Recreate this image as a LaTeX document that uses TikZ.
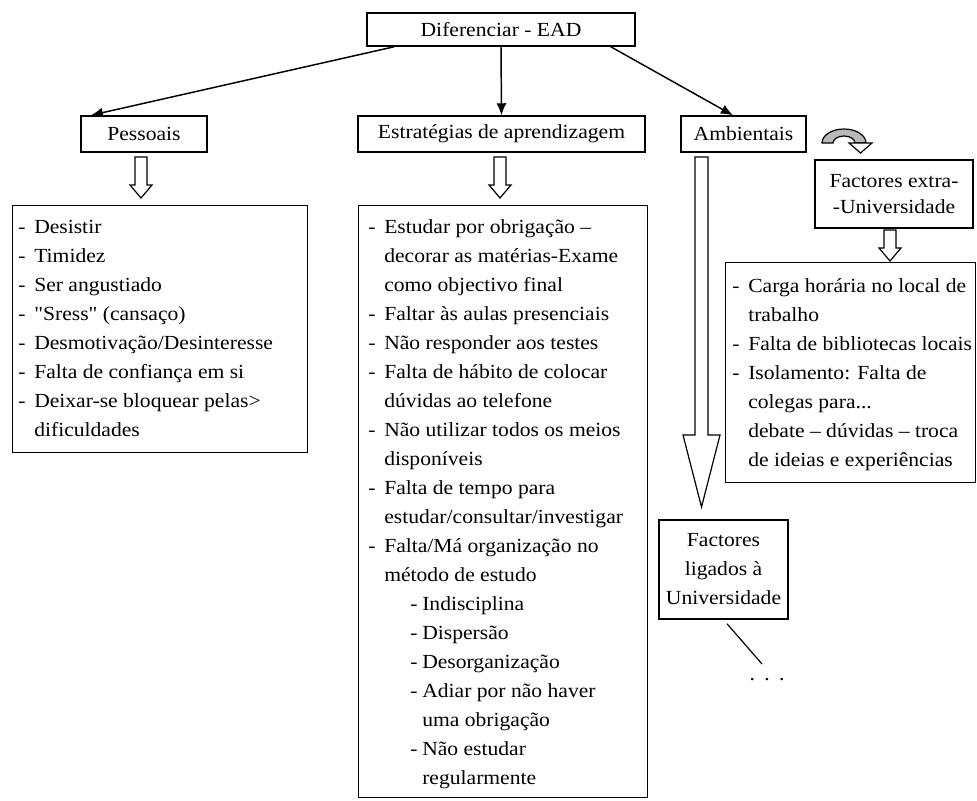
\documentclass[tikz,border=0pt]{standalone}
\usepackage{fontspec}
\setmainfont{Liberation Serif}[FakeStretch=1.08,Ligatures=TeXOff]
\usetikzlibrary{arrows.meta,calc}
\newcommand\LItem[1]{\makebox[12pt][l]{-}#1}
\newcommand\LCont[1]{\hspace*{12pt}#1}
\newcommand\LSub[1]{\hspace*{31.5pt}\makebox[9pt][l]{-}#1}
\newcommand\LSubC[1]{\hspace*{40.5pt}#1}
% hollow arrow: centre x, top y, tip y, shaft half width, head half width, head length
\newcommand\harrow[6]{\draw[hollow] (#1-#4,#2) -- (#1+#4,#2) -- (#1+#4,#3-#6) -- (#1+#5,#3-#6) -- (#1,#3) -- (#1-#5,#3-#6) -- (#1-#4,#3-#6) -- cycle;}
\begin{document}
\begin{tikzpicture}[x=0.75pt,y=-0.75pt,
  every node/.style={font=\fontsize{15}{21.75}\selectfont},
  box/.style={draw,line width=1.1pt,inner sep=0pt},
  conn/.style={-{Latex[length=9pt,width=7.5pt]},line width=1.1pt},
  hollow/.style={draw,fill=white,line width=0.9pt,line join=miter},
  listtext/.style={anchor=base west,inner sep=0pt}]
\useasboundingbox (0,0) rectangle (977,800);

% headers
\node[box,minimum width=201pt,minimum height=24.75pt] (top) at (501,29.5) {Diferenciar - EAD};
\node[box,minimum width=94.5pt,minimum height=27pt] (pess) at (144,134) {Pessoais};
\node[box,minimum width=215.25pt,minimum height=27pt] (estr) at (501.5,134) {Estratégias de aprendizagem};
\node[box,minimum width=93.75pt,minimum height=27pt] (amb) at (743.5,134) {Ambientais};
\node[box,align=center,minimum width=118.5pt,minimum height=51pt,
  font=\fontsize{15}{19}\selectfont] (fext) at (894,194) {Factores extra-\\-Universidade};
\node[box,align=center,minimum width=96.75pt,minimum height=74.25pt] (funi) at (723.5,569.5) {Factores\\ligados à\\Universidade};

% connectors from the top box
\draw[conn] ([xshift=21pt]top.south west) -- ([xshift=8pt]pess.north west);
\draw[conn] (top.south) -- (estr.north);
\draw[conn] ([xshift=-18.75pt]top.south east) -- ([xshift=-7.9pt]amb.north);

% list boxes
\node[box,anchor=north west,minimum width=221.25pt,minimum height=185.25pt] (plist) at (12,205) {};
\node[box,anchor=north west,minimum width=216.75pt,minimum height=444pt] (mlist) at (358,205) {};
\node[box,anchor=north west,minimum width=187.5pt,minimum height=165pt] (elist) at (725,262) {};

% hollow arrows
\harrow{141}{157}{198}{6}{11}{13}
\harrow{500}{157}{198}{6}{11}{13}
\harrow{890}{230}{261}{6}{11}{13}
\harrow{701.5}{157}{507}{6.5}{18.5}{72}

% curved arrow
\draw[line width=0.9pt,fill=gray!55] (822,143) arc[start angle=180,end angle=360,x radius=22,y radius=14]
  -- (855,143) arc[start angle=0,end angle=-180,x radius=11,y radius=7] -- cycle;
\draw[hollow] (849,143) -- (872,143) -- (860.5,153) -- cycle;

% list texts
\node[listtext] (ptext) at (18,233) {\begin{tabular}[t]{@{}l@{}}
\LItem{Desistir}\\
\LItem{Timidez}\\
\LItem{Ser angustiado}\\
\LItem{"Sress" (cansaço)}\\
\LItem{Desmotivação/Desinteresse}\\
\LItem{Falta de confiança em si}\\
\LItem{Deixar-se bloquear pelas>}\\
\LCont{dificuldades}
\end{tabular}};

\node[listtext] (mtext) at (368,233) {\begin{tabular}[t]{@{}l@{}}
\LItem{Estudar por obrigação –}\\
\LCont{decorar as matérias-Exame}\\
\LCont{como objectivo final}\\
\LItem{Faltar às aulas presenciais}\\
\LItem{Não responder aos testes}\\
\LItem{Falta de hábito de colocar}\\
\LCont{dúvidas ao telefone}\\
\LItem{Não utilizar todos os meios}\\
\LCont{disponíveis}\\
\LItem{Falta de tempo para}\\
\LCont{estudar/consultar/investigar}\\
\LItem{Falta/Má organização no}\\
\LCont{método de estudo}\\
\LSub{Indisciplina}\\
\LSub{Dispersão}\\
\LSub{Desorganização}\\
\LSub{Adiar por não haver}\\
\LSubC{uma obrigação}\\
\LSub{Não estudar}\\
\LSubC{regularmente}
\end{tabular}};

\node[listtext] (etext) at (732,292) {\begin{tabular}[t]{@{}l@{}}
\LItem{Carga horária no local de}\\
\LCont{trabalho}\\
\LItem{Falta de bibliotecas locais}\\
\LItem{Isolamento: Falta de}\\
\LCont{colegas para...}\\
\LCont{debate – dúvidas – troca}\\
\LCont{de ideias e experiências}
\end{tabular}};

% line to the dots
\coordinate (lend) at (762,664);
\draw[line width=0.9pt] ($(funi.south)+(3.5,4)$) -- (lend);
\node (dots) at (767,680) {.\hspace{7pt}.\hspace{7pt}.};
\end{tikzpicture}
\end{document}
